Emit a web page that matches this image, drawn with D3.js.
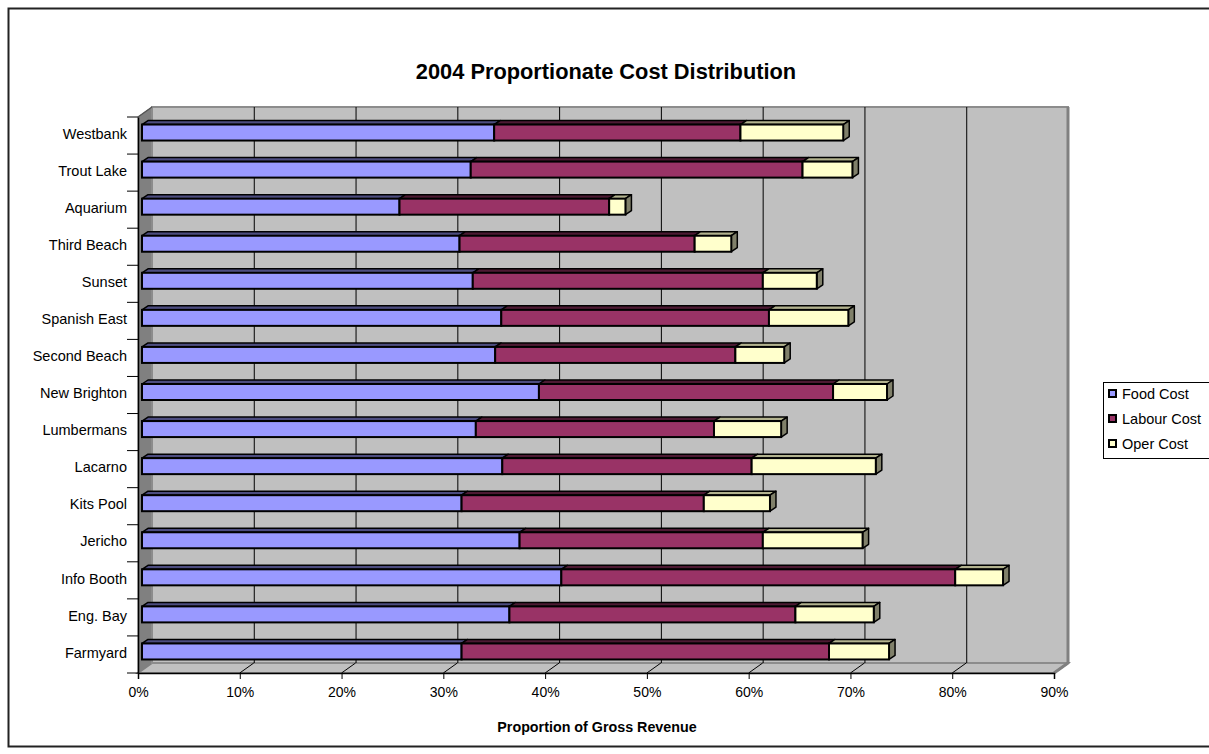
<!DOCTYPE html>
<html>
<head>
<meta charset="utf-8">
<script src="https://cdn.jsdelivr.net/npm/d3@7/dist/d3.min.js"></script>
<style>
  html, body { margin: 0; padding: 0; background: #fff; }
  svg { display: block; font-family: "Liberation Sans", Arial, sans-serif; }
</style>
</head>
<body>
<svg id="chart" width="1209" height="754"></svg>
<script>
// ---- Data (top to bottom as displayed) ----
const categories = ["Westbank", "Trout Lake", "Aquarium", "Third Beach", "Sunset", "Spanish East",
  "Second Beach", "New Brighton", "Lumbermans", "Lacarno", "Kits Pool", "Jericho",
  "Info Booth", "Eng. Bay", "Farmyard"];
const foodCost   = [0.346, 0.323, 0.253, 0.312, 0.325, 0.353, 0.347, 0.390, 0.328, 0.354, 0.314, 0.371, 0.412, 0.361, 0.314];
const labourCost = [0.242, 0.326, 0.206, 0.231, 0.285, 0.263, 0.236, 0.289, 0.234, 0.245, 0.238, 0.239, 0.387, 0.281, 0.361];
const operCost   = [0.101, 0.049, 0.016, 0.036, 0.053, 0.078, 0.048, 0.053, 0.066, 0.122, 0.065, 0.098, 0.047, 0.077, 0.059];
const seriesNames = ["Food Cost", "Labour Cost", "Oper Cost"];
const xTicks = [0, 0.1, 0.2, 0.3, 0.4, 0.5, 0.6, 0.7, 0.8, 0.9];

const colors = {
  "Food Cost":   { front: "#9999ff", top: "#4d4d80", side: "#3d3d73" },
  "Labour Cost": { front: "#993366", top: "#4d1a33", side: "#3d1429" },
  "Oper Cost":   { front: "#ffffcc", top: "#b3b38f", side: "#80806a" }
};

const svg = d3.select("#chart");
const font = '"Liberation Sans", Arial, sans-serif';

// outer border
svg.append("rect").attr("x", 8.5).attr("y", 8.5).attr("width", 1215).attr("height", 738)
  .attr("fill", "#fff").attr("stroke", "#222").attr("stroke-width", 2);

// scales
const x = d3.scaleLinear().domain([0, 0.9]).range([138, 1054]);
const y = d3.scaleBand().domain(categories).range([117, 673]);
const WD = { dx: 14, dy: -10 };   // wall depth
const BO = { dx: 4, dy: -3 };     // bar front-plane offset
const BD = { dx: 6, dy: -4 };     // bar depth

const x0 = x(0), x1 = x(0.9), yTop = y.range()[0], yBot = y.range()[1];

// left wall
svg.append("polygon")
  .attr("points", [[x0, yTop], [x0 + WD.dx, yTop + WD.dy], [x0 + WD.dx, yBot + WD.dy], [x0, yBot]].join(" "))
  .attr("fill", "#808080").attr("stroke", "#808080").attr("stroke-width", 1);
// floor
svg.append("polygon")
  .attr("points", [[x0, yBot], [x0 + WD.dx, yBot + WD.dy], [x1 + WD.dx, yBot + WD.dy], [x1, yBot]].join(" "))
  .attr("fill", "#c0c0c0").attr("stroke", "#808080").attr("stroke-width", 2);
// back wall
svg.append("rect")
  .attr("x", x0 + WD.dx).attr("y", yTop + WD.dy)
  .attr("width", x1 - x0).attr("height", yBot - yTop)
  .attr("fill", "#c0c0c0").attr("stroke", "#8c8c8c").attr("stroke-width", 2);
svg.append("line").attr("x1", x1 + WD.dx).attr("x2", x1 + WD.dx)
  .attr("y1", yTop + WD.dy).attr("y2", yBot + WD.dy + 1)
  .attr("stroke", "#808080").attr("stroke-width", 3);
svg.append("line").attr("x1", x1 + WD.dx).attr("x2", x1)
  .attr("y1", yBot + WD.dy).attr("y2", yBot)
  .attr("stroke", "#808080").attr("stroke-width", 3);

// gridlines on back wall + floor
xTicks.slice(1, -1).forEach(t => {
  svg.append("line")
    .attr("x1", x(t) + WD.dx + 0.5).attr("x2", x(t) + WD.dx + 0.5)
    .attr("y1", yTop + WD.dy).attr("y2", yBot + WD.dy)
    .attr("stroke", "#000").attr("stroke-width", 1);
  svg.append("line")
    .attr("x1", x(t)).attr("y1", yBot)
    .attr("x2", x(t) + WD.dx).attr("y2", yBot + WD.dy)
    .attr("stroke", "#000").attr("stroke-width", 1);
});
// left wall top edge
svg.append("line").attr("x1", x0).attr("y1", yTop).attr("x2", x0 + WD.dx).attr("y2", yTop + WD.dy)
  .attr("stroke", "#555").attr("stroke-width", 1.5);

// axes
const xAxis = d3.axisBottom(x).tickValues(xTicks).tickFormat(d3.format(".0%")).tickSize(6).tickPadding(8);
const gx = svg.append("g").attr("transform", `translate(0,${yBot})`).call(xAxis);
gx.select(".domain").attr("stroke", "#000").attr("stroke-width", 1.5);
gx.selectAll(".tick line").attr("stroke", "#000");
gx.selectAll(".tick text").attr("font-family", font).attr("font-size", 14).attr("fill", "#000");

const yAxis = d3.axisLeft(y).tickSize(0).tickPadding(11);
const gy = svg.append("g").attr("transform", `translate(${x0},0)`).call(yAxis);
gy.select(".domain").attr("stroke", "#000").attr("stroke-width", 1.5);
gy.selectAll(".tick text").attr("font-family", font).attr("font-size", 14.5).attr("fill", "#000").attr("dy", "0.22em");
// category boundary ticks
categories.concat([null]).forEach((c, i) => {
  const yy = c ? y(c) : yBot;
  svg.append("line").attr("x1", x0 - 11).attr("x2", x0).attr("y1", yy).attr("y2", yy)
    .attr("stroke", "#000").attr("stroke-width", 1);
});

// bars
const series = [foodCost, labourCost, operCost];
const barH = 16;
categories.forEach((cat, i) => {
  const cy = y(cat) + y.bandwidth() / 2 + BO.dy;
  const top = cy - barH / 2, bot = cy + barH / 2;
  let cum = 0;
  const g = svg.append("g");
  series.forEach((vals, s) => {
    const name = seriesNames[s];
    const a = x(cum) + BO.dx;
    cum += vals[i];
    const b = x(cum) + BO.dx;
    const col = colors[name];
    // top face
    g.append("polygon")
      .attr("points", [[a, top], [a + BD.dx, top + BD.dy], [b + BD.dx, top + BD.dy], [b, top]].join(" "))
      .attr("fill", col.top).attr("stroke", "#000").attr("stroke-width", 1.5).attr("stroke-linejoin", "round");
    // right face (only final visible for last series)
    if (s === series.length - 1) {
      g.append("polygon")
        .attr("points", [[b, top], [b + BD.dx, top + BD.dy], [b + BD.dx, bot + BD.dy], [b, bot]].join(" "))
        .attr("fill", col.side).attr("stroke", "#000").attr("stroke-width", 1.5).attr("stroke-linejoin", "round");
    }
    // front face
    g.append("rect").attr("x", a).attr("y", top).attr("width", b - a).attr("height", barH)
      .attr("fill", col.front).attr("stroke", "#000").attr("stroke-width", 2);
  });
});

// title
svg.append("text").attr("x", 606).attr("y", 79).attr("text-anchor", "middle")
  .attr("font-family", font).attr("font-weight", "bold").attr("font-size", 21.8)
  .text("2004 Proportionate Cost Distribution");
// axis title
svg.append("text").attr("x", 597).attr("y", 732).attr("text-anchor", "middle")
  .attr("font-family", font).attr("font-weight", "bold").attr("font-size", 14.3)
  .text("Proportion of Gross Revenue");

// legend
const lg = svg.append("g");
lg.append("rect").attr("x", 1103.5).attr("y", 382.5).attr("width", 120).attr("height", 76)
  .attr("fill", "#fff").attr("stroke", "#000").attr("stroke-width", 1);
seriesNames.forEach((n, i) => {
  const yy = 390 + i * 25;
  lg.append("rect").attr("x", 1109).attr("y", yy).attr("width", 7).attr("height", 7)
    .attr("fill", colors[n].front).attr("stroke", "#000").attr("stroke-width", 2);
  lg.append("text").attr("x", 1122).attr("y", yy + 9)
    .attr("font-family", font).attr("font-size", 14.5).text(n);
});
</script>
</body>
</html>
